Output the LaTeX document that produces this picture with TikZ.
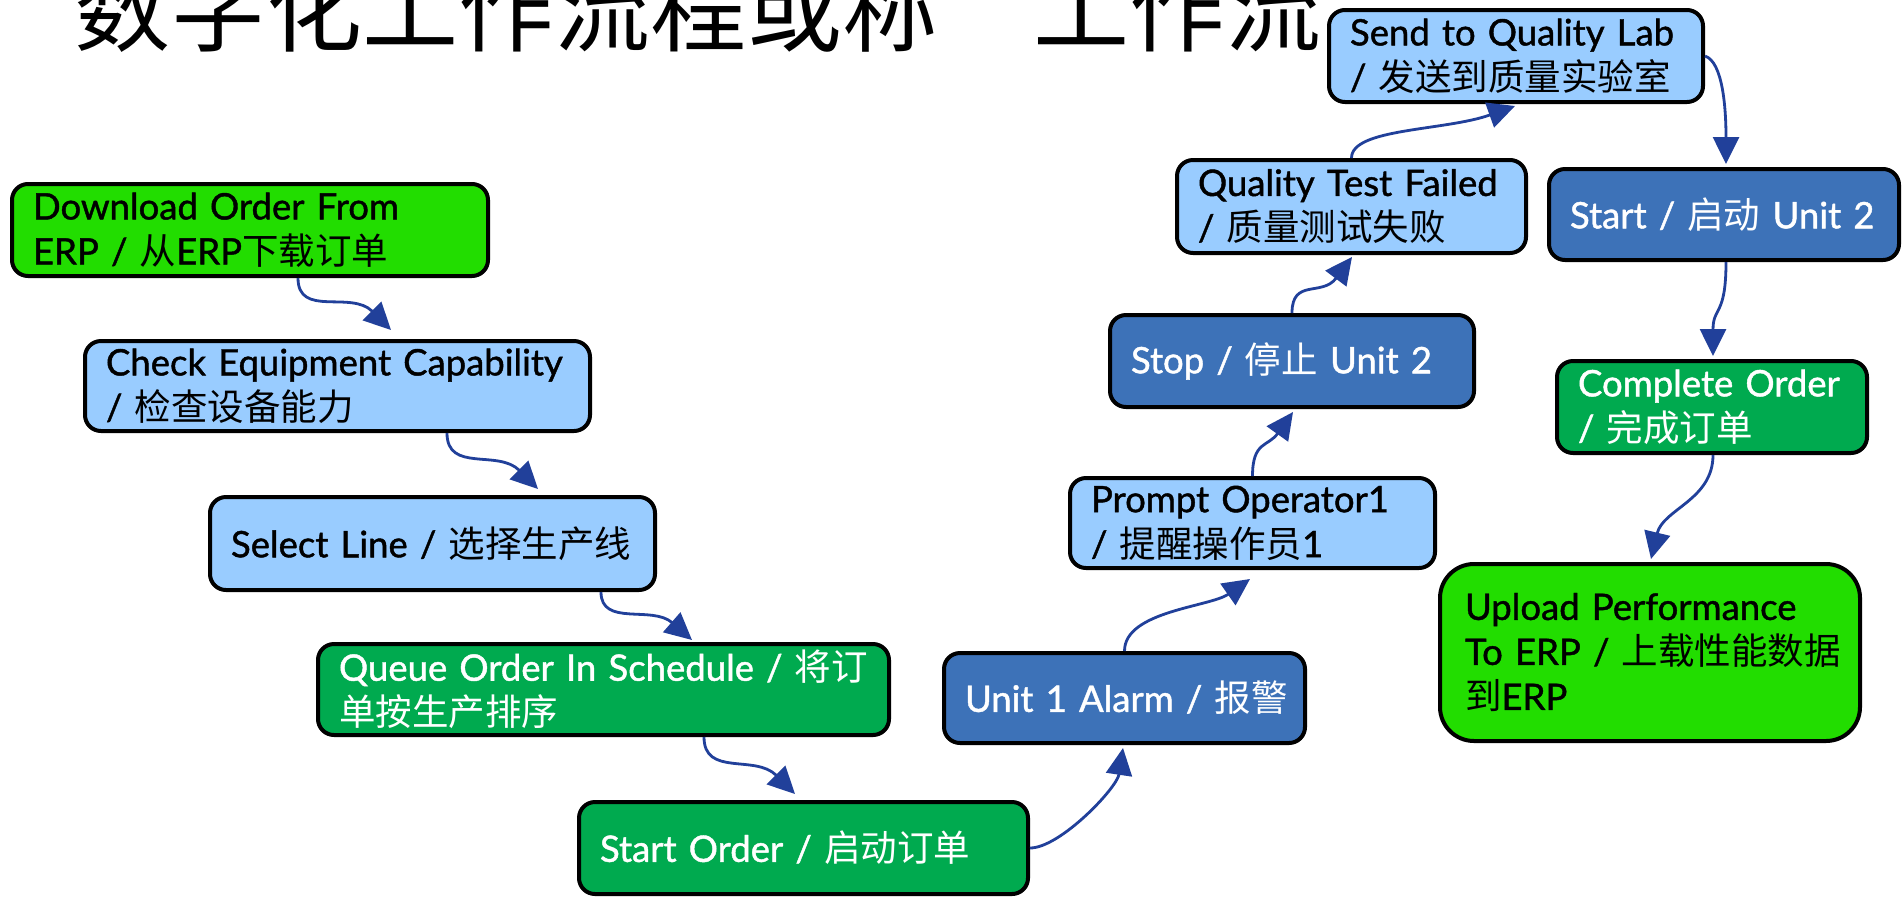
\documentclass[tikz,border=0pt]{standalone}
\usepackage{fontspec}
\setmainfont{Lato}[FakeBold=1.2,WordSpace=0.75]
\newfontfamily\cjk{Noto Sans CJK SC}
\usetikzlibrary{arrows.meta}
\definecolor{bgreen}{HTML}{22DD00}
\definecolor{dgreen}{HTML}{00AA4F}
\definecolor{lblue}{HTML}{99CCFF}
\definecolor{mblue}{HTML}{3D72B8}
\definecolor{arrowc}{HTML}{21409A}
\newcommand\zh[1]{{\cjk #1}}
\tikzset{
  bx/.style={draw=black, line width=4pt, rounded corners=16pt, align=left,
    inner xsep=21pt, inner ysep=0pt, font=\fontsize{36.5}{45}\selectfont},
  lightbox/.style={bx, fill=lblue, text=black},
  greenbox/.style={bx, fill=bgreen, text=black},
  darkgreenbox/.style={bx, fill=dgreen, text=white},
  bluebox/.style={bx, fill=mblue, text=white},
  arr/.style={draw=arrowc, line width=2.8pt, -{Triangle[length=27pt,width=26pt]}},
  ttl/.style={inner sep=0pt, font=\cjk\fontsize{96}{96}\selectfont}
}
\begin{document}
\begin{tikzpicture}[x=1pt,y=1pt]
\fill[white] (0,0) rectangle (1903,-898);
\useasboundingbox (0,0) rectangle (1903,-898);

% title
\node[ttl, anchor=base west] (title1) at (74,-44) {数字化工作流程或称};
\node[ttl, anchor=base east] (title2) at (1322,-44) {“工作流};

% boxes
\node[greenbox, minimum width=476pt, minimum height=92pt, text width=434pt] (n1) at (250,-230)
  {\mbox{Download Order From}\\\mbox{ERP / \zh{从}ERP\zh{下载订单}}};
\node[lightbox, minimum width=505pt, minimum height=90pt, text width=463pt] (n2) at (337.5,-386)
  {\mbox{Check Equipment Capability}\\\mbox{/ \zh{检查设备能力}}};
\node[lightbox, minimum width=445pt, minimum height=93pt, text width=403pt] (n3) at (432.5,-543.5)
  {\mbox{Select Line / \zh{选择生产线}}};
\node[darkgreenbox, minimum width=571pt, minimum height=91pt, text width=529pt] (n4) at (603.5,-689.5)
  {\mbox{Queue Order In Schedule / \zh{将订}}\\\mbox{\zh{单按生产排序}}};
\node[darkgreenbox, minimum width=449pt, minimum height=92pt, text width=407pt] (n5) at (803.5,-848)
  {\mbox{Start Order / \zh{启动订单}}};
\node[bluebox, minimum width=361pt, minimum height=90pt, text width=319pt] (n6) at (1124.5,-698)
  {\mbox{Unit 1 Alarm / \zh{报警}}};
\node[lightbox, minimum width=365pt, minimum height=90pt, text width=323pt] (n7) at (1252.5,-523)
  {\mbox{Prompt Operator1}\\\mbox{/ \zh{提醒操作员}1}};
\node[bluebox, minimum width=364pt, minimum height=92pt, text width=322pt] (n8) at (1292,-361)
  {\mbox{Stop / \zh{停止} Unit 2}};
\node[lightbox, minimum width=349pt, minimum height=93pt, text width=307pt] (n9) at (1351.5,-206.5)
  {\mbox{Quality Test Failed}\\\mbox{/ \zh{质量测试失败}}};
\node[lightbox, minimum width=374pt, minimum height=92pt, text width=332pt] (n10) at (1516,-56)
  {\mbox{Send to Quality Lab}\\\mbox{/ \zh{发送到质量实验室}}};
\node[bluebox, minimum width=350pt, minimum height=91pt, text width=308pt] (n11) at (1724,-214.5)
  {\mbox{Start / \zh{启动} Unit 2}};
\node[darkgreenbox, minimum width=310pt, minimum height=92pt, text width=268pt] (n12) at (1712,-407)
  {\mbox{Complete Order}\\\mbox{/ \zh{完成订单}}};
\node[greenbox, rounded corners=34pt, inner xsep=25pt, minimum width=420pt, minimum height=177pt, text width=370pt] (n13) at (1650,-652.5)
  {\mbox{Upload Performance}\\\mbox{To ERP / \zh{上载性能数据}}\\\mbox{\zh{到}ERP}};

% connectors
\draw[arr] ([xshift=48pt]n1.south) .. controls +(0,-40) and +(-40,40) .. ([xshift=53.5pt,yshift=9pt]n2.north);
\draw[arr] ([xshift=109.5pt]n2.south) .. controls +(0,-40) and +(-40,40) .. ([xshift=105.5pt,yshift=6pt]n3.north);
\draw[arr] ([xshift=168.5pt]n3.south) .. controls +(0,-35) and +(-40,35) .. ([xshift=88.5pt,yshift=2pt]n4.north);
\draw[arr] ([xshift=100.5pt]n4.south) .. controls +(0,-40) and +(-40,40) .. ([xshift=-8.5pt,yshift=6pt]n5.north);
\draw[arr] (n5.east) .. controls +(30,0) and +(-6,-40) .. ([xshift=-1.5pt,yshift=-3pt]n6.south);
\draw[arr] (n6.north) .. controls +(0,40) and +(-40,-28) .. ([xshift=-2.5pt,yshift=-9pt]n7.south);
\draw[arr] (n7.north) .. controls +(0,35) and +(-25,-35) .. ([xshift=1pt,yshift=-3pt]n8.south);
\draw[arr] (n8.north) .. controls +(0,35) and +(-30,-40) .. ([xshift=0.5pt,yshift=-2pt]n9.south);
\draw[arr] (n9.north) .. controls +(0,30) and +(-70,-25) .. ([xshift=-1pt,yshift=-2pt]n10.south);
\draw[arr] (n10.east) .. controls +(18,-6) and +(0,55) .. ([xshift=2pt,yshift=3pt]n11.north);
\draw[arr] ([xshift=2pt]n11.south) .. controls +(0,-55) and +(0,50) .. ([xshift=1pt,yshift=3pt]n12.north);
\draw[arr] ([xshift=1pt]n12.south) .. controls +(0,-45) and +(12,50) .. ([xshift=1pt,yshift=3pt]n13.north);
\end{tikzpicture}
\end{document}
